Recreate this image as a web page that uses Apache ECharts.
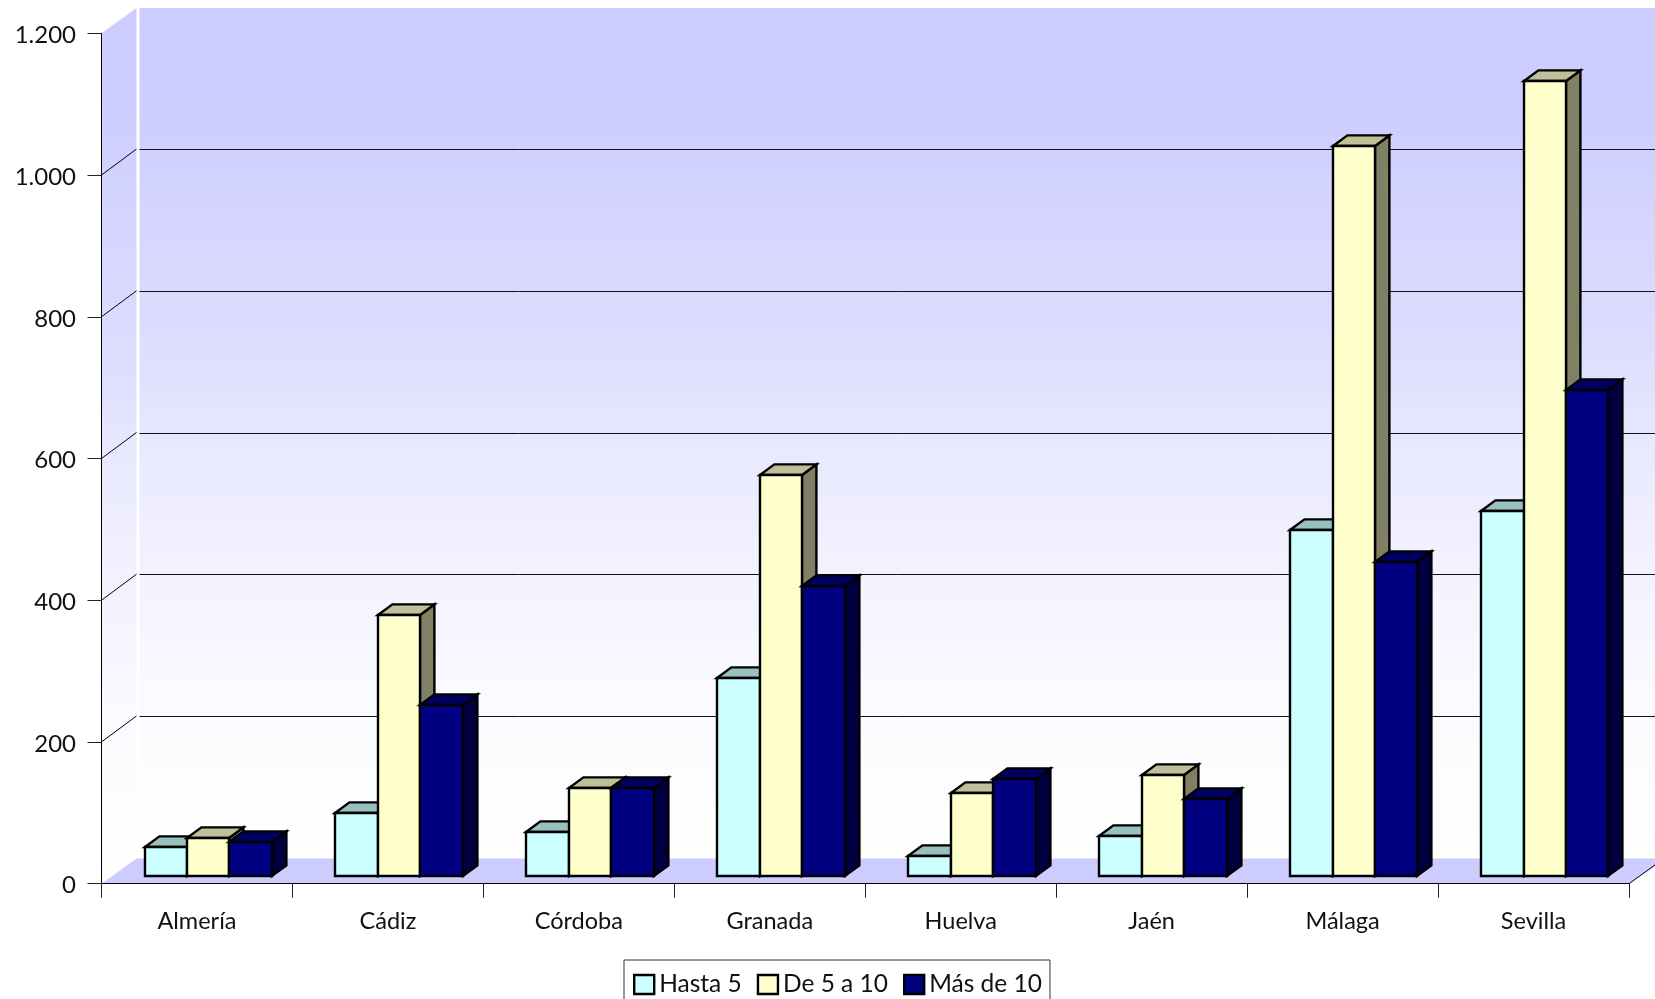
<!DOCTYPE html>
<html><head><meta charset="utf-8">
<style>html,body{margin:0;padding:0;background:#fff;overflow:hidden}#c{width:1655px;height:999px}</style>
<script src="https://cdn.jsdelivr.net/npm/echarts@6/dist/echarts.min.js"></script>
</head><body><div id="c"></div>
<script>
const categories = ['Almería','Cádiz','Córdoba','Granada','Huelva','Jaén','Málaga','Sevilla'];
const hasta5   = [40, 88, 62, 279, 27, 56, 487, 515];
const de5a10   = [53, 367, 123, 565, 116, 142, 1030, 1121];
const masDe10  = [47, 240, 123, 409, 136, 108, 443, 685];
const gridTicks = [200, 400, 600, 800, 1000];
const FONT = 'Lato';
const WALL = {dx: 35, dy: -25.3, gridDy: -26};
const FRONT = {dx: 11.2, dy: -8.2};
const BOX = {dx: 14.4, dy: -10.6};

function bands(api){
  const size = api.size([1,0])[0];
  const left = api.coord([0,0])[0] - size/2;
  const right = api.coord([categories.length-1,0])[0] + size/2;
  return {size,left,right,y0:api.coord([0,0])[1],yTop:api.coord([0,1200])[1]};
}
const vGrad = {type:'linear',x:0,y:0,x2:0,y2:1,colorStops:[
  {offset:0,color:'#ccccff'},{offset:0.108,color:'#cdcdff'},{offset:0.414,color:'#dedeff'},
  {offset:0.52,color:'#e9e9ff'},{offset:0.673,color:'#f3f3ff'},{offset:0.832,color:'#fbfbff'},{offset:1,color:'#ffffff'}]};

function renderWalls(params, api){
  const b = bands(api);
  const bx = b.left+WALL.dx, by0=b.y0+WALL.dy, byT=b.yTop+WALL.dy;
  return {type:'group',silent:true,children:[
    {type:'polygon',shape:{points:[[bx+3,byT],[b.right+WALL.dx+3,byT],[b.right+WALL.dx+3,by0],[bx+3,by0]]},style:{fill:vGrad}},
    {type:'polygon',shape:{points:[[b.left,b.yTop],[bx,byT],[bx,by0],[b.left,b.y0]]},style:{fill:vGrad}},
    {type:'polygon',shape:{points:[[b.left,b.y0],[bx,by0],[b.right+WALL.dx+3,by0],[b.right,b.y0]]},style:{fill:'#ccccff'}},
    {type:'line',shape:{x1:b.right,y1:b.y0,x2:b.right+WALL.dx,y2:by0},style:{stroke:'#000',lineWidth:1}}
  ]};
}
function renderGrid(params, api){
  const b = bands(api);
  const y = api.coord([0,api.value(1)])[1];
  const bx = b.left+WALL.dx;
  const yb = Math.round(y+WALL.gridDy)+0.5;
  return {type:'group',silent:true,children:[
    {type:'line',shape:{x1:b.left,y1:y,x2:bx,y2:y+WALL.gridDy},style:{stroke:'#000',lineWidth:1}},
    {type:'line',shape:{x1:bx+3,y1:yb,x2:b.right+WALL.dx+3,y2:yb},style:{stroke:'#111',lineWidth:1}}
  ]};
}
function barRenderer(slot, front, top, side){
  return function(params, api){
    const size = api.size([1,0])[0];
    const w = size*2/9;
    const c = api.coord([api.value(0),api.value(1)]);
    const base = api.coord([api.value(0),0])[1];
    const x0 = Math.round(c[0]+(slot-1.5)*w+FRONT.dx), x1=Math.round(c[0]+(slot-0.5)*w+FRONT.dx);
    const yT = Math.round(c[1]+FRONT.dy), yB = Math.round(base+FRONT.dy);
    const st = f=>({fill:f,stroke:'#000',lineWidth:2.4,lineJoin:'miter'});
    return {type:'group',children:[
      {type:'polygon',shape:{points:[[x1,yT],[x1+BOX.dx,yT+BOX.dy],[x1+BOX.dx,yB+BOX.dy],[x1,yB]]},style:st(side)},
      {type:'polygon',shape:{points:[[x0,yT],[x0+BOX.dx,yT+BOX.dy],[x1+BOX.dx,yT+BOX.dy],[x1,yT]]},style:st(top)},
      {type:'polygon',shape:{points:[[x0,yT],[x1,yT],[x1,yB],[x0,yB]]},style:st(front)}
    ]};
  };
}
function barSeries(name, values, slot, front, top, side){
  return {name,type:'custom',renderItem:barRenderer(slot,front,top,side),
    data:values.map((v,i)=>[i,v]),encode:{x:0,y:1},
    itemStyle:{color:front,borderColor:'#000',borderWidth:2.4},z:5};
}
const chart = echarts.init(document.getElementById('c'),null,{renderer:'canvas'});
chart.setOption({
  animation:false,
  backgroundColor:'#fff',
  textStyle:{fontFamily:FONT},
  grid:{left:101.5,right:26,top:33.3,bottom:115.3,containLabel:false},
  xAxis:{type:'category',data:categories,boundaryGap:true,
    axisLine:{show:true,lineStyle:{color:'#000',width:1}},
    axisTick:{show:true,length:14,alignWithLabel:false,lineStyle:{color:'#222',width:1}},
    axisLabel:{fontSize:23.5,color:'#111',margin:26,interval:0,fontFamily:FONT},
    splitLine:{show:false},z:8},
  yAxis:{type:'value',min:0,max:1200,interval:200,
    axisLine:{show:true,lineStyle:{color:'#000',width:1}},
    axisTick:{show:true,length:14,lineStyle:{color:'#222',width:1}},
    axisLabel:{fontSize:24,color:'#111',margin:25.5,fontFamily:FONT,
      rich:{n:{fontSize:24,color:'#111',fontFamily:FONT,padding:[4,0,0,0]}},
      formatter:v=>'{n|'+String(v).replace(/\B(?=(\d{3})+$)/g,'.')+'}'},
    splitLine:{show:false},z:8},
  legend:{data:['Hasta 5','De 5 a 10','Más de 10'],left:624,top:960,orient:'horizontal',
    padding:[12,8,20,9],itemGap:15,itemWidth:20,itemHeight:19,itemTextGap:10,icon:'rect',
    borderColor:'#333',borderWidth:1,backgroundColor:'#fff',selectedMode:false,
    textStyle:{fontSize:24.5,color:'#111',fontFamily:FONT},
    itemStyle:{borderColor:'#000',borderWidth:2.4}},
  series:[
    {name:'walls',type:'custom',renderItem:renderWalls,data:[[0,0]],encode:{x:0,y:1},silent:true,z:1},
    {name:'grid',type:'custom',renderItem:renderGrid,data:gridTicks.map(t=>[0,t]),encode:{x:0,y:1},silent:true,z:2},
    barSeries('Hasta 5',hasta5,0,'#ccffff','#99bfbf','#668080'),
    barSeries('De 5 a 10',de5a10,1,'#ffffcc','#bfbf99','#808066'),
    barSeries('Más de 10',masDe10,2,'#000080','#000060','#000040')
  ]
});
</script></body></html>
